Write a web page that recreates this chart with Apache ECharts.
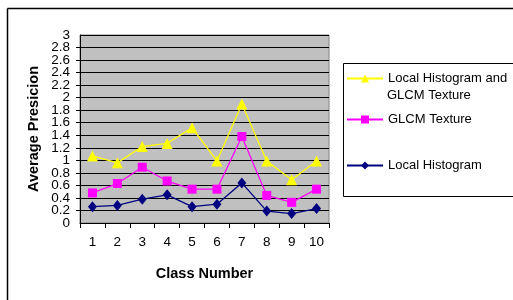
<!DOCTYPE html>
<html>
<head>
<meta charset="utf-8">
<script src="https://cdn.jsdelivr.net/npm/echarts@6/dist/echarts.min.js"></script>
<style>
  html, body { margin: 0; padding: 0; background: #fff; }
  #chart { width: 513px; height: 300px; }
</style>
</head>
<body>
<div id="chart"></div>
<script>
  // values
  let classes = ['1', '2', '3', '4', '5', '6', '7', '8', '9', '10'];
  let histGlcm = [1.07, 0.96, 1.22, 1.27, 1.52, 0.99, 1.9, 0.99, 0.69, 0.99];
  let glcm = [0.48, 0.63, 0.89, 0.67, 0.54, 0.54, 1.38, 0.44, 0.33, 0.54];
  let hist = [0.26, 0.28, 0.38, 0.45, 0.26, 0.3, 0.64, 0.19, 0.15, 0.23];

  let fnt = 'Liberation Sans, Arial, sans-serif';
  let myChart = echarts.init(document.getElementById('chart'));

  function legendAt(name, top, label) {
    return {
      data: [name],
      left: 346,
      top: top,
      itemWidth: 36,
      itemHeight: 10,
      itemGap: 0,
      padding: 0,
      selectedMode: false,
      formatter: function () { return label; },
      textStyle: { fontFamily: fnt, fontSize: 13, color: '#000' }
    };
  }

  function fmt(v) { return String(Math.round(v * 10) / 10); }

  let option = {
    animation: false,
    grid: { left: 80, top: 35, width: 249, height: 188, show: true, backgroundColor: '#c0c0c0', borderColor: '#808080', borderWidth: 1 },
    legend: [
      legendAt('Local Histogram and GLCM Texture', 72, 'Local Histogram and'),
      legendAt('GLCM Texture', 113, 'GLCM Texture'),
      legendAt('Local Histogram', 159, 'Local Histogram')
    ],
    graphic: [
      { type: 'line', shape: { x1: 7.5, y1: 8.5, x2: 513, y2: 8.5 }, style: { stroke: '#000', lineWidth: 1.5 } },
      { type: 'line', shape: { x1: 7.5, y1: 8.5, x2: 7.5, y2: 300 }, style: { stroke: '#000', lineWidth: 1.5 } },
      { type: 'rect', shape: { x: 343.5, y: 63.5, width: 170, height: 133 }, style: { fill: 'none', stroke: '#000', lineWidth: 1 } },
      { type: 'text', left: 387, top: 89, style: { text: 'GLCM Texture', font: '13px ' + fnt, fill: '#000' } }
    ],
    xAxis: {
      type: 'category',
      data: classes,
      boundaryGap: true,
      name: 'Class Number',
      nameLocation: 'middle',
      nameGap: 43,
      nameTextStyle: { fontFamily: fnt, fontSize: 14.5, fontWeight: 'bold', color: '#000' },
      axisLine: { lineStyle: { color: '#000' } },
      axisTick: { show: true, length: 5, inside: false, lineStyle: { color: '#000' } },
      axisLabel: { margin: 12, fontFamily: fnt, fontSize: 13.5, color: '#000' }
    },
    yAxis: [
      {
        type: 'value',
        min: 0,
        max: 3,
        interval: 0.2,
        name: 'Average Presicion',
        nameLocation: 'middle',
        nameRotate: 90,
        nameGap: 39,
        nameTextStyle: { fontFamily: fnt, fontSize: 14.5, fontWeight: 'bold', color: '#000' },
        axisLine: { show: true, lineStyle: { color: '#000' } },
        axisTick: { show: true, length: 4, lineStyle: { color: '#000' } },
        splitLine: { show: true, lineStyle: { color: '#000', width: 1 } },
        axisLabel: {
          margin: 10, fontFamily: fnt, fontSize: 13.5, color: '#000', lineHeight: 9,
          hideOverlap: false, formatter: fmt
        }
      },
      {
        // second copy only to put back the 0 and 3 labels that get auto-hidden
        type: 'value',
        position: 'left',
        offset: 0,
        min: 0,
        max: 3,
        interval: 0.2,
        axisLine: { show: false },
        axisTick: { show: false },
        splitLine: { show: false },
        axisLabel: {
          margin: 10, fontFamily: fnt, fontSize: 13.5, color: '#000', lineHeight: 9,
          showMinLabel: true, showMaxLabel: true, hideOverlap: false,
          formatter: function (v) { return (v === 0 || v === 3) ? fmt(v) : ''; }
        }
      }
    ],
    series: [
      {
        name: 'Local Histogram and GLCM Texture', type: 'line', data: histGlcm,
        symbol: 'triangle', symbolSize: 11,
        lineStyle: { color: '#ffff00', width: 1.3 }, itemStyle: { color: '#ffff00' }
      },
      {
        name: 'GLCM Texture', type: 'line', data: glcm,
        symbol: 'rect', symbolSize: 9,
        lineStyle: { color: '#ff00ff', width: 1.3 }, itemStyle: { color: '#ff00ff' }
      },
      {
        name: 'Local Histogram', type: 'line', data: hist,
        symbol: 'diamond', symbolSize: [9, 11],
        lineStyle: { color: '#000080', width: 1.3 }, itemStyle: { color: '#000080' }
      }
    ]
  };
  myChart.setOption(option);
</script>
</body>
</html>
